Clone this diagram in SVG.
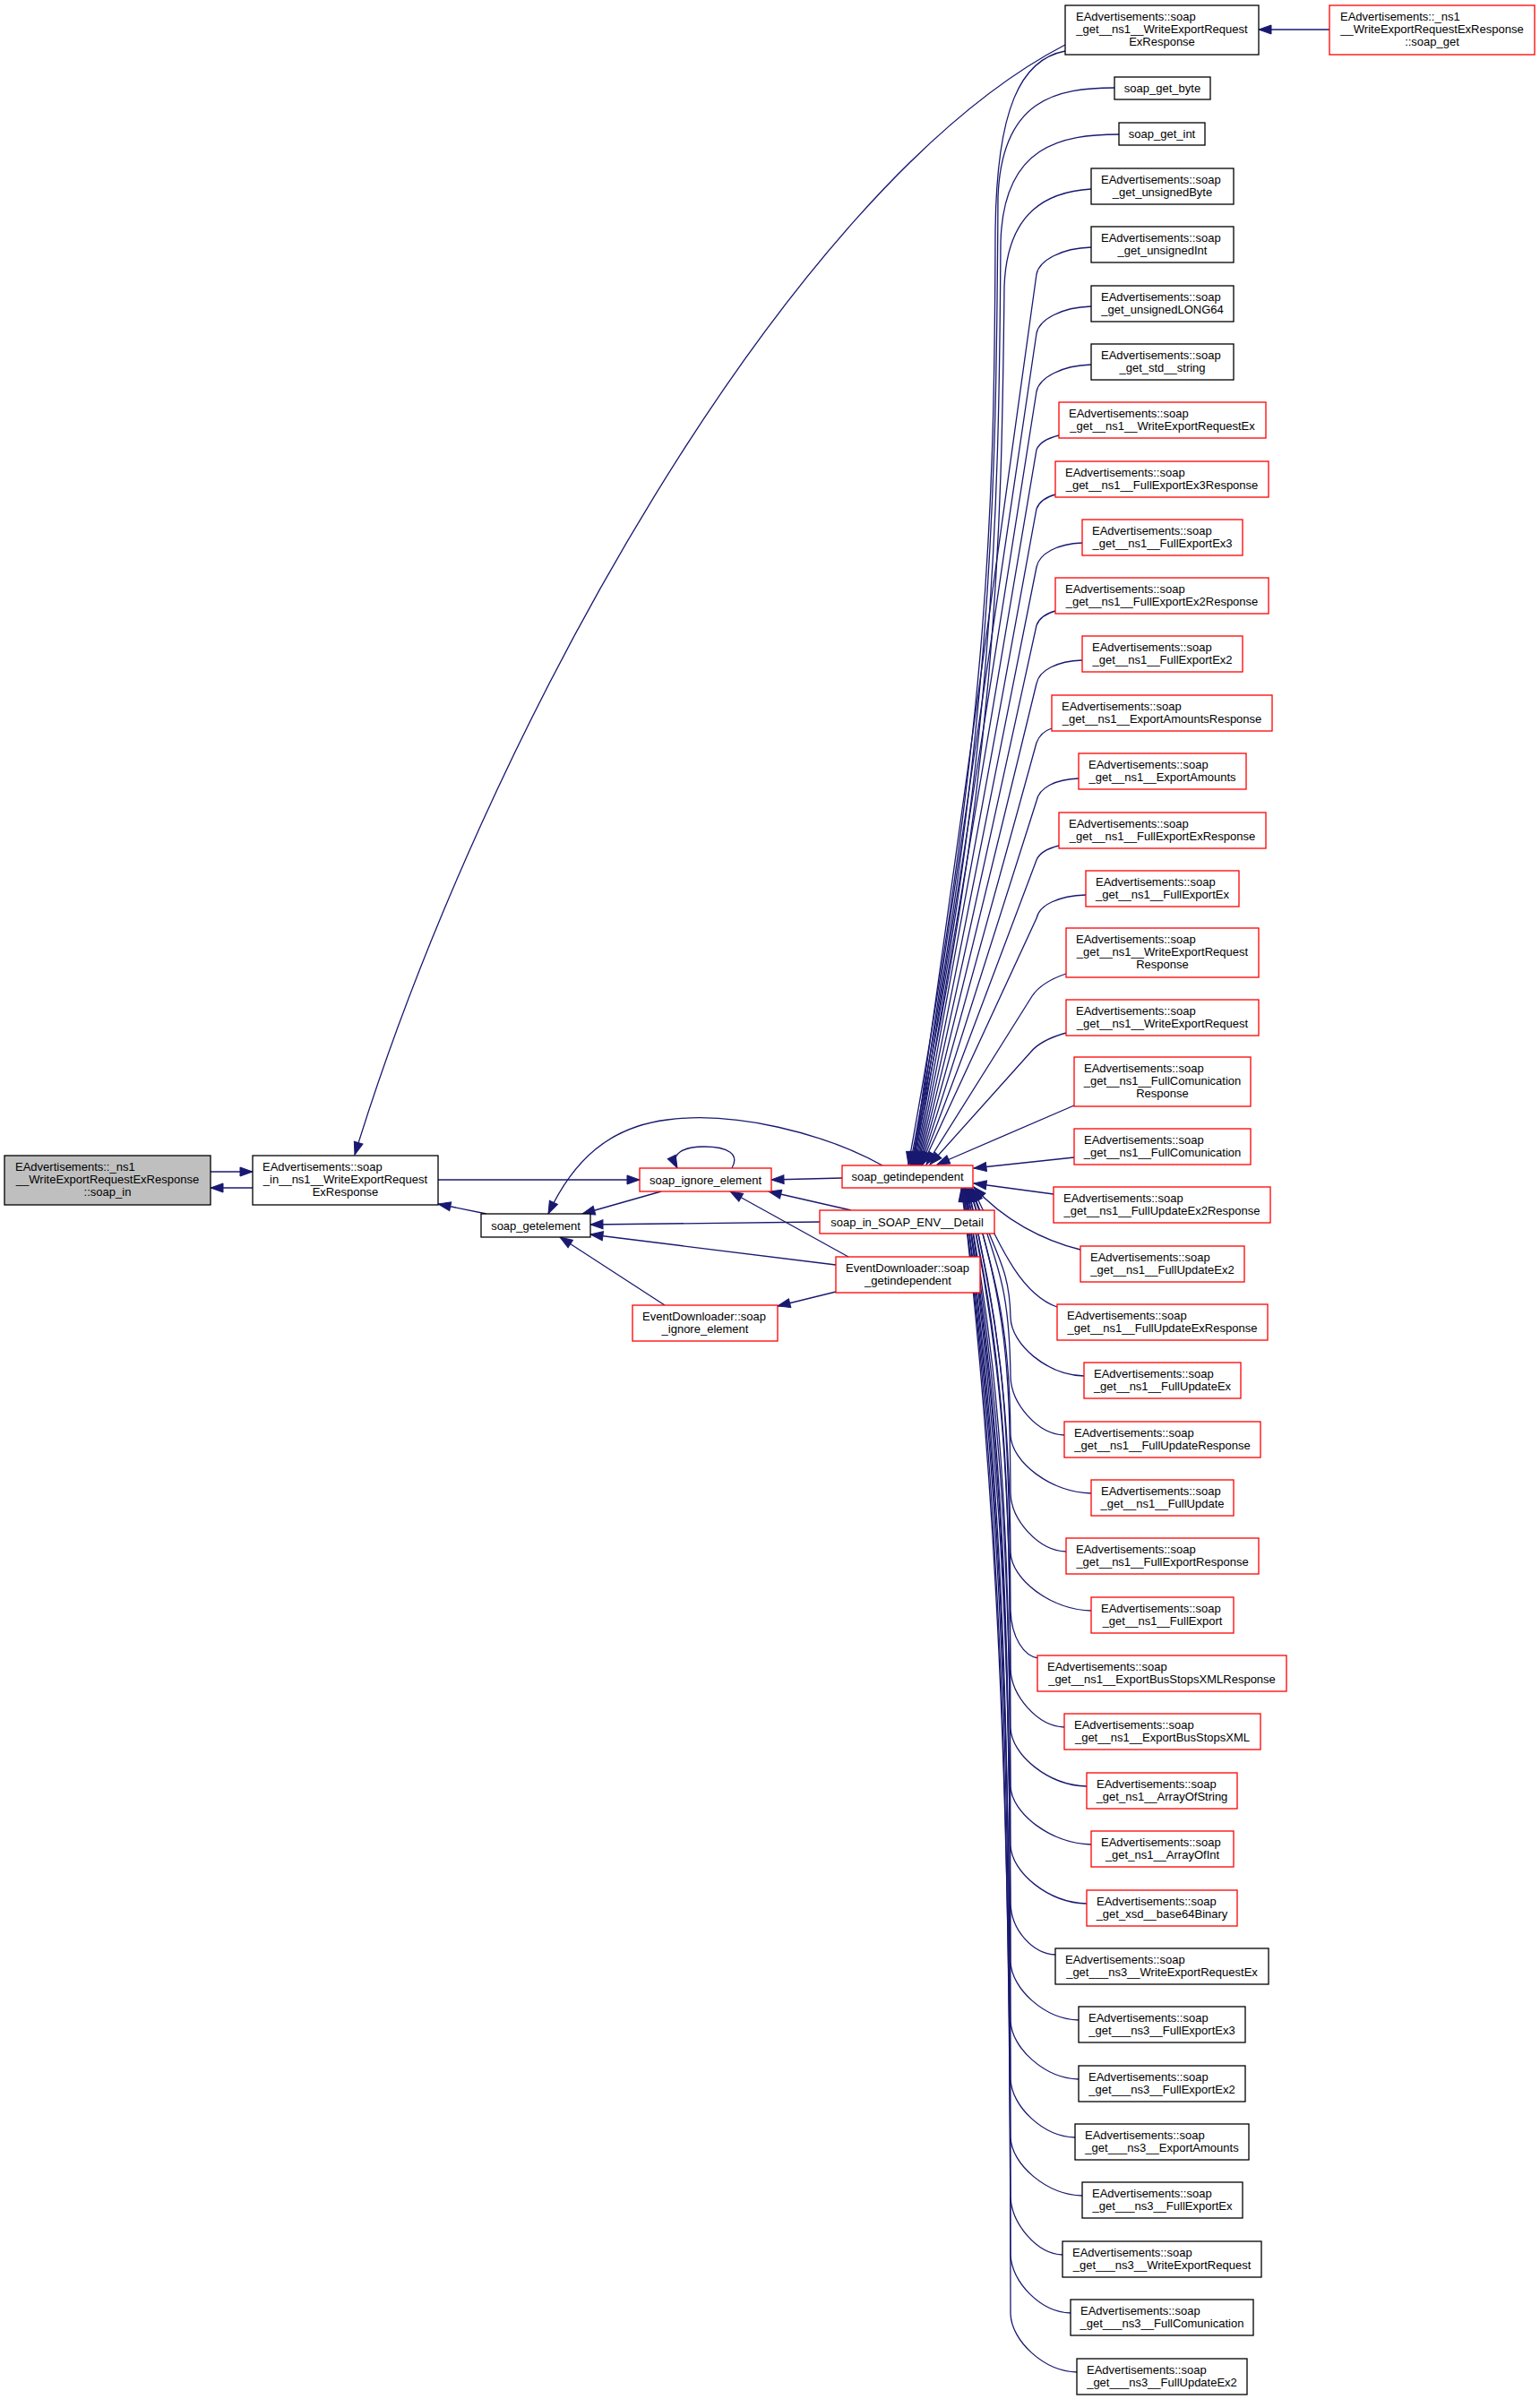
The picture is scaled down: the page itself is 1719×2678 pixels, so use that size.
<svg xmlns="http://www.w3.org/2000/svg" width="1719" height="2678" viewBox="0 0 1719 2678">
<defs>
<marker id="ah" markerUnits="userSpaceOnUse" markerWidth="14" markerHeight="10" refX="14" refY="5" orient="auto" overflow="visible"><path d="M0,0 L14,5 L0,10 z" fill="#191970" stroke="#191970" stroke-width="1"/></marker>
<style>
rect{fill:#fff;stroke:#000;stroke-width:1.3}
.r rect{stroke:#ff0000}
.g rect{fill:#bfbfbf}
text{font-family:"Liberation Sans",Arial,Helvetica,sans-serif;font-size:13px;fill:#000}
.c{text-anchor:middle}
.e path{fill:none;stroke:#191970;stroke-width:1.3;marker-end:url(#ah)}
</style>
</defs>
<rect x="0" y="0" width="1719" height="2678" style="fill:#fff;stroke:none"/>
<g id="edges" class="e">
<path d="M235,1308 L282,1308"/>
<path d="M282,1326 L235,1326"/>
<path d="M1189,50 C880,210 540,820 396,1289"/>
<path d="M489,1317 L714,1317"/>
<path d="M543,1355 L489,1344"/>
<path d="M817,1304 C826,1288 812,1280 786,1280 C762,1280 748,1288 756,1304"/>
<path d="M940,1315 L861,1317"/>
<path d="M738,1330 L650,1355"/>
<path d="M985,1301 C920,1265 820,1240 745,1250 C680,1258 640,1295 612,1355"/>
<path d="M950,1351 L858,1330"/>
<path d="M915,1364 L659,1367"/>
<path d="M947,1403 L815,1330"/>
<path d="M933,1412 L659,1378"/>
<path d="M742,1457 L625,1381"/>
<path d="M933,1442 L868,1458"/>
<path d="M1484,33 L1405,33"/>
<path d="M1189,57 C1140,66 1112,120 1111,260 C1110,560 1105,800 1014,1300"/>
<path d="M1244,98 C1180,98 1118,110 1114,220 C1112,560 1108,820 1016,1300"/>
<path d="M1249,150 C1185,150 1120,162 1117,270 C1115,580 1110,840 1017,1300"/>
<path d="M1218,211 C1170,214 1124,235 1121,320 C1118,600 1113,860 1018,1300"/>
<path d="M1218,276 C1184,277 1160,291 1157,306 L1019,1300"/>
<path d="M1218,342 C1184,343 1160,357 1157,372 L1020,1300"/>
<path d="M1218,407 C1184,408 1160,422 1157,437 L1021,1300"/>
<path d="M1182,486 C1170,489 1160,494 1157,502 L1022,1300"/>
<path d="M1178,552 C1167,555 1160,560 1157,568 L1023,1300"/>
<path d="M1208,606 C1180,607 1160,618 1157,633 L1024,1300"/>
<path d="M1178,682 C1167,685 1160,690 1157,698 L1025,1300"/>
<path d="M1208,737 C1180,738 1160,748 1157,763 L1026,1300"/>
<path d="M1174,813 C1165,816 1160,821 1157,829 L1027,1300"/>
<path d="M1204,869 C1178,870 1160,879 1157,894 L1028,1300"/>
<path d="M1182,944 C1170,947 1160,952 1157,960 L1029,1300"/>
<path d="M1212,999 C1182,1000 1160,1010 1157,1025 L1030,1300"/>
<path d="M1190,1087 C1175,1092 1160,1100 1152,1112 L1034,1300"/>
<path d="M1190,1153 C1172,1158 1158,1165 1150,1175 L1038,1300"/>
<path d="M1199,1234 L1046,1300"/>
<path d="M1199,1292 L1087,1304"/>
<path d="M1176,1333 L1087,1321"/>
<path d="M1206,1395 C1165,1385 1120,1362 1087,1325"/>
<path d="M1180,1459 C1140,1445 1118,1395 1086,1327"/>
<path d="M1210,1536 C1169,1535 1129,1501 1128,1471 C1127,1413 1110,1400 1085,1327"/>
<path d="M1188,1602 C1158,1601 1129,1567 1128,1537 C1127,1453 1120,1424 1084,1327"/>
<path d="M1218,1667 C1173,1666 1129,1632 1128,1602 C1127,1492 1116,1441 1083,1327"/>
<path d="M1190,1732 C1159,1731 1129,1697 1128,1667 C1127,1531 1124,1457 1082,1327"/>
<path d="M1218,1798 C1173,1797 1129,1763 1128,1733 C1127,1571 1114,1473 1081,1327"/>
<path d="M1159,1851 C1143,1849 1129,1828 1128,1798 C1127,1610 1122,1490 1080,1327"/>
<path d="M1188,1928 C1158,1927 1129,1893 1128,1863 C1127,1649 1118,1506 1079,1327"/>
<path d="M1213,1994 C1170,1993 1129,1959 1128,1929 C1127,1688 1126,1522 1078,1327"/>
<path d="M1218,2059 C1173,2058 1129,2024 1128,1994 C1127,1727 1114,1539 1078,1327"/>
<path d="M1213,2125 C1170,2124 1129,2090 1128,2060 C1127,1767 1124,1555 1077,1327"/>
<path d="M1178,2182 C1153,2181 1129,2155 1128,2125 C1127,1806 1112,1571 1077,1327"/>
<path d="M1204,2255 C1166,2254 1129,2220 1128,2190 C1127,1845 1120,1588 1076,1327"/>
<path d="M1204,2321 C1166,2320 1129,2286 1128,2256 C1127,1884 1126,1604 1076,1327"/>
<path d="M1200,2386 C1164,2385 1129,2351 1128,2321 C1127,1923 1116,1620 1075,1327"/>
<path d="M1208,2451 C1168,2450 1129,2416 1128,2386 C1127,1962 1122,1637 1075,1327"/>
<path d="M1186,2517 C1157,2516 1129,2482 1128,2452 C1127,2002 1112,1653 1074,1327"/>
<path d="M1195,2582 C1161,2581 1129,2547 1128,2517 C1127,2041 1118,1669 1074,1327"/>
<path d="M1202,2648 C1165,2647 1129,2613 1128,2583 C1127,2081 1126,1686 1073,1327"/>
</g>
<g id="n_focus" class="g"><rect x="5" y="1290" width="230" height="55"/><text x="17" y="1307">EAdvertisements::_ns1</text><text class="c" x="120" y="1321">__WriteExportRequestExResponse</text><text class="c" x="120" y="1335">::soap_in</text></g>
<g id="n_soap_in"><rect x="282" y="1290" width="207" height="55"/><text x="293" y="1307">EAdvertisements::soap</text><text class="c" x="385.5" y="1321">_in__ns1__WriteExportRequest</text><text class="c" x="385.5" y="1335">ExResponse</text></g>
<g id="n_getelement"><rect x="537" y="1355" width="122" height="26"/><text class="c" x="598" y="1372.5">soap_getelement</text></g>
<g id="n_ignore" class="r"><rect x="714" y="1304" width="147" height="26"/><text class="c" x="787.5" y="1321.5">soap_ignore_element</text></g>
<g id="n_getindependent" class="r"><rect x="940" y="1301" width="146" height="25"/><text class="c" x="1013" y="1318">soap_getindependent</text></g>
<g id="n_detail" class="r"><rect x="915" y="1351" width="195" height="26"/><text class="c" x="1012.5" y="1368.5">soap_in_SOAP_ENV__Detail</text></g>
<g id="n_ed_getind" class="r"><rect x="933" y="1403" width="161" height="40"/><text x="944" y="1420">EventDownloader::soap</text><text class="c" x="1013.5" y="1434">_getindependent</text></g>
<g id="n_ed_ignore" class="r"><rect x="706" y="1457" width="162" height="40"/><text x="717" y="1474">EventDownloader::soap</text><text class="c" x="787" y="1488">_ignore_element</text></g>
<g id="n_top"><rect x="1189" y="6" width="216" height="55"/><text x="1201" y="23">EAdvertisements::soap</text><text class="c" x="1297" y="37">_get__ns1__WriteExportRequest</text><text class="c" x="1297" y="51">ExResponse</text></g>
<g id="n_soapget" class="r"><rect x="1484" y="6" width="229" height="55"/><text x="1496" y="23">EAdvertisements::_ns1</text><text class="c" x="1598.5" y="37">__WriteExportRequestExResponse</text><text class="c" x="1598.5" y="51">::soap_get</text></g>
<g id="n_byte"><rect x="1244" y="86" width="107" height="25"/><text class="c" x="1297.5" y="103">soap_get_byte</text></g>
<g id="n_int"><rect x="1249" y="137" width="96" height="25"/><text class="c" x="1297" y="154">soap_get_int</text></g>
<g id="n_ubyte"><rect x="1218" y="188" width="159" height="40"/><text x="1229" y="205">EAdvertisements::soap</text><text class="c" x="1297.5" y="219">_get_unsignedByte</text></g>
<g id="n_uint"><rect x="1218" y="253" width="159" height="40"/><text x="1229" y="270">EAdvertisements::soap</text><text class="c" x="1297.5" y="284">_get_unsignedInt</text></g>
<g id="n_ulong"><rect x="1218" y="319" width="159" height="40"/><text x="1229" y="336">EAdvertisements::soap</text><text class="c" x="1297.5" y="350">_get_unsignedLONG64</text></g>
<g id="n_string"><rect x="1218" y="384" width="159" height="40"/><text x="1229" y="401">EAdvertisements::soap</text><text class="c" x="1297.5" y="415">_get_std__string</text></g>
<g id="n_r1" class="r"><rect x="1182" y="449" width="231" height="40"/><text x="1193" y="466">EAdvertisements::soap</text><text class="c" x="1297.5" y="480">_get__ns1__WriteExportRequestEx</text></g>
<g id="n_r2" class="r"><rect x="1178" y="515" width="238" height="40"/><text x="1189" y="532">EAdvertisements::soap</text><text class="c" x="1297" y="546">_get__ns1__FullExportEx3Response</text></g>
<g id="n_r3" class="r"><rect x="1208" y="580" width="179" height="40"/><text x="1219" y="597">EAdvertisements::soap</text><text class="c" x="1297.5" y="611">_get__ns1__FullExportEx3</text></g>
<g id="n_r4" class="r"><rect x="1178" y="645" width="238" height="40"/><text x="1189" y="662">EAdvertisements::soap</text><text class="c" x="1297" y="676">_get__ns1__FullExportEx2Response</text></g>
<g id="n_r5" class="r"><rect x="1208" y="710" width="179" height="40"/><text x="1219" y="727">EAdvertisements::soap</text><text class="c" x="1297.5" y="741">_get__ns1__FullExportEx2</text></g>
<g id="n_r6" class="r"><rect x="1174" y="776" width="246" height="40"/><text x="1185" y="793">EAdvertisements::soap</text><text class="c" x="1297" y="807">_get__ns1__ExportAmountsResponse</text></g>
<g id="n_r7" class="r"><rect x="1204" y="841" width="187" height="40"/><text x="1215" y="858">EAdvertisements::soap</text><text class="c" x="1297.5" y="872">_get__ns1__ExportAmounts</text></g>
<g id="n_r8" class="r"><rect x="1182" y="907" width="231" height="40"/><text x="1193" y="924">EAdvertisements::soap</text><text class="c" x="1297.5" y="938">_get__ns1__FullExportExResponse</text></g>
<g id="n_r9" class="r"><rect x="1212" y="972" width="171" height="40"/><text x="1223" y="989">EAdvertisements::soap</text><text class="c" x="1297.5" y="1003">_get__ns1__FullExportEx</text></g>
<g id="n_r10" class="r"><rect x="1190" y="1036" width="215" height="55"/><text x="1201" y="1053">EAdvertisements::soap</text><text class="c" x="1297.5" y="1067">_get__ns1__WriteExportRequest</text><text class="c" x="1297.5" y="1081">Response</text></g>
<g id="n_r11" class="r"><rect x="1190" y="1116" width="215" height="40"/><text x="1201" y="1133">EAdvertisements::soap</text><text class="c" x="1297.5" y="1147">_get__ns1__WriteExportRequest</text></g>
<g id="n_r12" class="r"><rect x="1199" y="1180" width="197" height="55"/><text x="1210" y="1197">EAdvertisements::soap</text><text class="c" x="1297.5" y="1211">_get__ns1__FullComunication</text><text class="c" x="1297.5" y="1225">Response</text></g>
<g id="n_r13" class="r"><rect x="1199" y="1260" width="197" height="40"/><text x="1210" y="1277">EAdvertisements::soap</text><text class="c" x="1297.5" y="1291">_get__ns1__FullComunication</text></g>
<g id="n_r14" class="r"><rect x="1176" y="1325" width="242" height="40"/><text x="1187" y="1342">EAdvertisements::soap</text><text class="c" x="1297" y="1356">_get__ns1__FullUpdateEx2Response</text></g>
<g id="n_r15" class="r"><rect x="1206" y="1391" width="183" height="40"/><text x="1217" y="1408">EAdvertisements::soap</text><text class="c" x="1297.5" y="1422">_get__ns1__FullUpdateEx2</text></g>
<g id="n_r16" class="r"><rect x="1180" y="1456" width="235" height="40"/><text x="1191" y="1473">EAdvertisements::soap</text><text class="c" x="1297.5" y="1487">_get__ns1__FullUpdateExResponse</text></g>
<g id="n_r17" class="r"><rect x="1210" y="1521" width="175" height="40"/><text x="1221" y="1538">EAdvertisements::soap</text><text class="c" x="1297.5" y="1552">_get__ns1__FullUpdateEx</text></g>
<g id="n_r18" class="r"><rect x="1188" y="1587" width="219" height="40"/><text x="1199" y="1604">EAdvertisements::soap</text><text class="c" x="1297.5" y="1618">_get__ns1__FullUpdateResponse</text></g>
<g id="n_r19" class="r"><rect x="1218" y="1652" width="159" height="40"/><text x="1229" y="1669">EAdvertisements::soap</text><text class="c" x="1297.5" y="1683">_get__ns1__FullUpdate</text></g>
<g id="n_r20" class="r"><rect x="1190" y="1717" width="215" height="40"/><text x="1201" y="1734">EAdvertisements::soap</text><text class="c" x="1297.5" y="1748">_get__ns1__FullExportResponse</text></g>
<g id="n_r21" class="r"><rect x="1218" y="1783" width="159" height="40"/><text x="1229" y="1800">EAdvertisements::soap</text><text class="c" x="1297.5" y="1814">_get__ns1__FullExport</text></g>
<g id="n_r22" class="r"><rect x="1158" y="1848" width="278" height="40"/><text x="1169" y="1865">EAdvertisements::soap</text><text class="c" x="1297" y="1879">_get__ns1__ExportBusStopsXMLResponse</text></g>
<g id="n_r23" class="r"><rect x="1188" y="1913" width="219" height="40"/><text x="1199" y="1930">EAdvertisements::soap</text><text class="c" x="1297.5" y="1944">_get__ns1__ExportBusStopsXML</text></g>
<g id="n_r24" class="r"><rect x="1213" y="1979" width="168" height="40"/><text x="1224" y="1996">EAdvertisements::soap</text><text class="c" x="1297" y="2010">_get_ns1__ArrayOfString</text></g>
<g id="n_r25" class="r"><rect x="1218" y="2044" width="159" height="40"/><text x="1229" y="2061">EAdvertisements::soap</text><text class="c" x="1297.5" y="2075">_get_ns1__ArrayOfInt</text></g>
<g id="n_r26" class="r"><rect x="1213" y="2110" width="168" height="40"/><text x="1224" y="2127">EAdvertisements::soap</text><text class="c" x="1297" y="2141">_get_xsd__base64Binary</text></g>
<g id="n_b1"><rect x="1178" y="2175" width="238" height="40"/><text x="1189" y="2192">EAdvertisements::soap</text><text class="c" x="1297" y="2206">_get___ns3__WriteExportRequestEx</text></g>
<g id="n_b2"><rect x="1204" y="2240" width="186" height="40"/><text x="1215" y="2257">EAdvertisements::soap</text><text class="c" x="1297" y="2271">_get___ns3__FullExportEx3</text></g>
<g id="n_b3"><rect x="1204" y="2306" width="186" height="40"/><text x="1215" y="2323">EAdvertisements::soap</text><text class="c" x="1297" y="2337">_get___ns3__FullExportEx2</text></g>
<g id="n_b4"><rect x="1200" y="2371" width="194" height="40"/><text x="1211" y="2388">EAdvertisements::soap</text><text class="c" x="1297" y="2402">_get___ns3__ExportAmounts</text></g>
<g id="n_b5"><rect x="1208" y="2436" width="179" height="40"/><text x="1219" y="2453">EAdvertisements::soap</text><text class="c" x="1297.5" y="2467">_get___ns3__FullExportEx</text></g>
<g id="n_b6"><rect x="1186" y="2502" width="222" height="40"/><text x="1197" y="2519">EAdvertisements::soap</text><text class="c" x="1297" y="2533">_get___ns3__WriteExportRequest</text></g>
<g id="n_b7"><rect x="1195" y="2567" width="204" height="40"/><text x="1206" y="2584">EAdvertisements::soap</text><text class="c" x="1297" y="2598">_get___ns3__FullComunication</text></g>
<g id="n_b8"><rect x="1202" y="2633" width="190" height="40"/><text x="1213" y="2650">EAdvertisements::soap</text><text class="c" x="1297" y="2664">_get___ns3__FullUpdateEx2</text></g>
</svg>
